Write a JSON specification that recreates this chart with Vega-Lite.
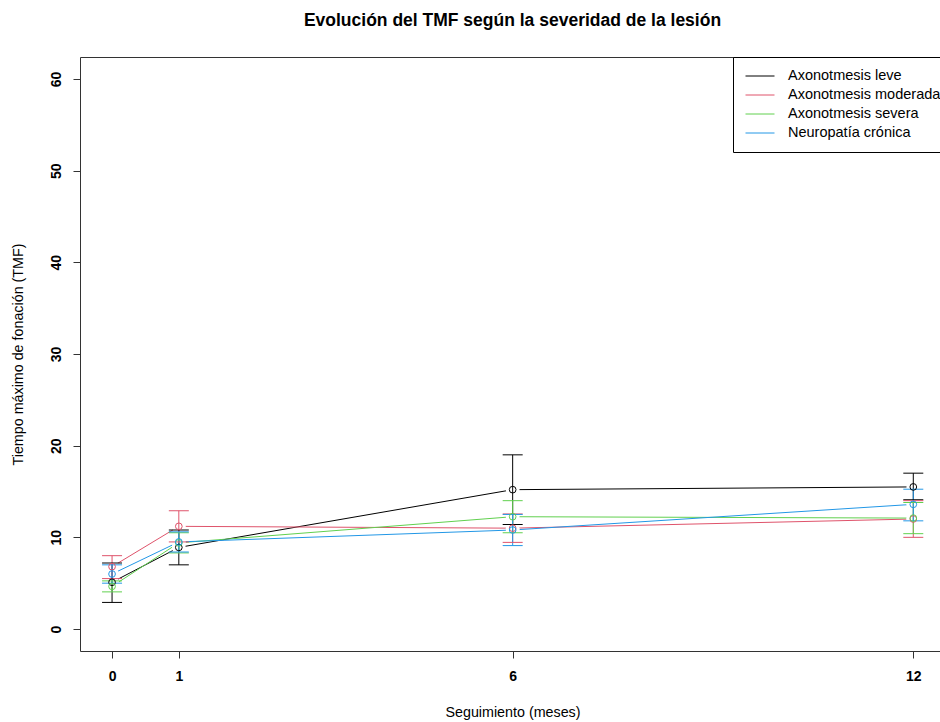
{
  "$schema": "https://vega.github.io/schema/vega-lite/v6.json",
  "width": 860,
  "height": 594,
  "autosize": {"type": "none"},
  "padding": {"left": 80, "top": 57, "right": 0, "bottom": 71},
  "background": "white",
  "config": {
    "view": {"stroke": null},
    "font": "Liberation Sans",
    "axis": {"grid": false, "domainColor": "#333333", "tickColor": "#333333", "labelColor": "#000000", "titleColor": "#000000", "labelFontSize": 14, "labelFontWeight": "bold", "tickSize": 7, "titleFontSize": 14.3, "titleFontWeight": "normal"},
    "legend": {"labelFont": "Liberation Sans"}
  },
  "title": {"text": "Evolución del TMF según la severidad de la lesión", "fontSize": 17.5, "fontWeight": "bold", "color": "#000000", "anchor": "middle", "frame": "group", "dx": 2.5, "baseline": "alphabetic", "offset": 13},
  "data": {"values": [
    {"grupo": "Axonotmesis leve", "mes": 0, "media": 5.1, "lo": 2.9, "hi": 7.2},
    {"grupo": "Axonotmesis leve", "mes": 1, "media": 8.9, "lo": 7.0, "hi": 10.8},
    {"grupo": "Axonotmesis leve", "mes": 6, "media": 15.2, "lo": 11.4, "hi": 19.0},
    {"grupo": "Axonotmesis leve", "mes": 12, "media": 15.5, "lo": 14.1, "hi": 17.0},
    {"grupo": "Axonotmesis moderada", "mes": 0, "media": 6.8, "lo": 5.5, "hi": 8.0},
    {"grupo": "Axonotmesis moderada", "mes": 1, "media": 11.2, "lo": 9.5, "hi": 12.9},
    {"grupo": "Axonotmesis moderada", "mes": 6, "media": 11.0, "lo": 9.45, "hi": 12.55},
    {"grupo": "Axonotmesis moderada", "mes": 12, "media": 12.0, "lo": 10.0, "hi": 14.0},
    {"grupo": "Axonotmesis severa", "mes": 0, "media": 4.65, "lo": 4.05, "hi": 5.25},
    {"grupo": "Axonotmesis severa", "mes": 1, "media": 9.4, "lo": 8.3, "hi": 10.5},
    {"grupo": "Axonotmesis severa", "mes": 6, "media": 12.25, "lo": 10.5, "hi": 14.0},
    {"grupo": "Axonotmesis severa", "mes": 12, "media": 12.1, "lo": 10.4, "hi": 13.8},
    {"grupo": "Neuropatía crónica", "mes": 0, "media": 6.0, "lo": 5.0, "hi": 7.0},
    {"grupo": "Neuropatía crónica", "mes": 1, "media": 9.5, "lo": 8.4, "hi": 10.6},
    {"grupo": "Neuropatía crónica", "mes": 6, "media": 10.8, "lo": 9.1, "hi": 12.5},
    {"grupo": "Neuropatía crónica", "mes": 12, "media": 13.6, "lo": 11.8, "hi": 15.25}
  ]},
  "resolve": {"axis": {"x": "independent", "y": "independent"}},
  "layer": [
    {
      "mark": {"type": "line", "strokeWidth": 1},
      "encoding": {
        "x": {"field": "mes", "type": "quantitative", "scale": {"domain": [-0.48, 12.4], "nice": false, "zero": false},
          "axis": {"orient": "bottom", "values": [0, 1, 6, 12], "labelPadding": 11, "title": "Seguimiento (meses)", "titleX": 432.5, "titleY": 65, "titleAlign": "center", "titleBaseline": "alphabetic"}},
        "y": {"field": "media", "type": "quantitative", "scale": {"domain": [-2.4, 62.4], "nice": false, "zero": false},
          "axis": {"orient": "left", "values": [0, 10, 20, 30, 40, 50, 60], "labelAngle": -90, "labelAlign": "center", "labelBaseline": "bottom", "labelPadding": 10, "title": "Tiempo máximo de fonación (TMF)", "titleAngle": -90, "titleX": -58, "titleY": 297, "titleAlign": "center", "titleBaseline": "alphabetic"}},
        "color": {"field": "grupo", "type": "nominal",
          "scale": {"domain": ["Axonotmesis leve", "Axonotmesis moderada", "Axonotmesis severa", "Neuropatía crónica"], "range": ["#000000", "#DF536B", "#61D04F", "#2297E6"]},
          "legend": {"orient": "none", "legendX": 653, "legendY": 0, "title": null, "symbolType": "stroke", "symbolSize": 841, "symbolStrokeWidth": 1, "clipHeight": 14, "rowPadding": 4, "labelFontSize": 14.5, "labelColor": "#000000", "labelOffset": 13, "labelLimit": 400, "padding": 12, "strokeColor": "#000000", "fillColor": "#ffffff", "cornerRadius": 0}}
      }
    },
    {
      "mark": {"type": "point", "filled": true, "color": "#ffffff", "opacity": 1, "size": 190, "shape": "circle"},
      "encoding": {
        "x": {"field": "mes", "type": "quantitative", "scale": {"domain": [-0.48, 12.4], "nice": false, "zero": false},
          "axis": {"orient": "top", "labels": false, "ticks": false, "title": null, "domain": true}},
        "y": {"field": "media", "type": "quantitative", "scale": {"domain": [-2.4, 62.4], "nice": false, "zero": false}, "axis": null},
        "detail": {"field": "grupo"}
      }
    },
    {
      "mark": {"type": "rule", "strokeWidth": 1},
      "encoding": {
        "x": {"field": "mes", "type": "quantitative", "scale": {"domain": [-0.48, 12.4], "nice": false, "zero": false}, "axis": null},
        "y": {"field": "lo", "type": "quantitative", "scale": {"domain": [-2.4, 62.4], "nice": false, "zero": false}, "axis": null},
        "y2": {"field": "hi"},
        "color": {"field": "grupo", "type": "nominal", "legend": null}
      }
    },
    {
      "mark": {"type": "tick", "orient": "horizontal", "size": 20, "thickness": 1, "opacity": 1},
      "encoding": {
        "x": {"field": "mes", "type": "quantitative", "scale": {"domain": [-0.48, 12.4], "nice": false, "zero": false}, "axis": null},
        "y": {"field": "lo", "type": "quantitative", "scale": {"domain": [-2.4, 62.4], "nice": false, "zero": false}, "axis": null},
        "color": {"field": "grupo", "type": "nominal", "legend": null}
      }
    },
    {
      "mark": {"type": "tick", "orient": "horizontal", "size": 20, "thickness": 1, "opacity": 1},
      "encoding": {
        "x": {"field": "mes", "type": "quantitative", "scale": {"domain": [-0.48, 12.4], "nice": false, "zero": false}, "axis": null},
        "y": {"field": "hi", "type": "quantitative", "scale": {"domain": [-2.4, 62.4], "nice": false, "zero": false}, "axis": null},
        "color": {"field": "grupo", "type": "nominal", "legend": null}
      }
    },
    {
      "mark": {"type": "point", "filled": false, "size": 45, "strokeWidth": 1, "opacity": 1, "shape": "circle"},
      "encoding": {
        "x": {"field": "mes", "type": "quantitative", "scale": {"domain": [-0.48, 12.4], "nice": false, "zero": false}, "axis": null},
        "y": {"field": "media", "type": "quantitative", "scale": {"domain": [-2.4, 62.4], "nice": false, "zero": false}, "axis": null},
        "color": {"field": "grupo", "type": "nominal", "legend": null}
      }
    }
  ]
}
